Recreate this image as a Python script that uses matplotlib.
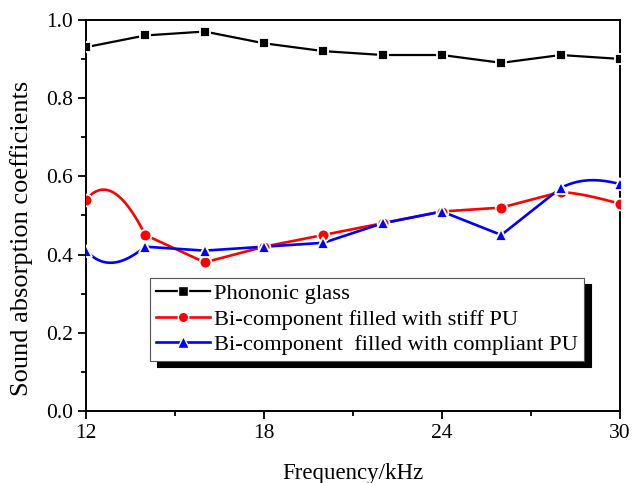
import numpy as np
import matplotlib.pyplot as plt
from matplotlib.lines import Line2D

# data
freq = [12, 14, 16, 18, 20, 22, 24, 26, 28, 30]
glass = [0.93, 0.96, 0.97, 0.94, 0.92, 0.91, 0.91, 0.89, 0.91, 0.90]
stiff = [0.54, 0.45, 0.38, 0.42, 0.45, 0.48, 0.51, 0.52, 0.56, 0.53]
compliant = [0.41, 0.42, 0.41, 0.42, 0.43, 0.48, 0.51, 0.45, 0.57, 0.58]
labels = ["Phononic glass",
          "Bi-component filled with stiff PU",
          "Bi-component  filled with compliant PU"]

# line shape: slopes used at the ends of the first and last segment
# (first-start, first-end, last-start, last-end), the rest is straight
stiff_ends = (0.09, -0.15, -0.005, -0.02)
compliant_ends = (-0.08, 0.06, 0.04, -0.02)


def connect(x, y, ends, n=60):
    # a. build the connecting line: curved end segments, straight inside
    x = np.asarray(x, float)
    y = np.asarray(y, float)
    xs_all, ys_all = [], []
    k = len(x)
    for i in range(k - 1):
        h = x[i + 1] - x[i]
        t = np.linspace(0, 1, n)
        if i == 0 or i == k - 2:
            m0, m1 = (ends[0], ends[1]) if i == 0 else (ends[2], ends[3])
            h00 = 2 * t**3 - 3 * t**2 + 1
            h10 = t**3 - 2 * t**2 + t
            h01 = -2 * t**3 + 3 * t**2
            h11 = t**3 - t**2
            seg = h00 * y[i] + h10 * h * m0 + h01 * y[i + 1] + h11 * h * m1
        else:
            seg = y[i] + t * (y[i + 1] - y[i])
        xs_all.append(x[i] + t * h)
        ys_all.append(seg)
    return np.concatenate(xs_all), np.concatenate(ys_all)


plt.rcParams['font.family'] = ['Liberation Serif', 'DejaVu Serif']

fig = plt.figure(figsize=(6.32, 4.83), dpi=100)
ax = fig.add_axes([0.136, 0.149, 0.845, 0.81])

# a. lines
ax.plot(freq, glass, color='black', lw=1.6, zorder=2)
xs, ys = connect(freq, stiff, stiff_ends)
ax.plot(xs, ys, color='red', lw=1.9, zorder=2)
xs, ys = connect(freq, compliant, compliant_ends)
ax.plot(xs, ys, color='blue', lw=1.9, zorder=2)

# b. markers with white rim to mimic the gap around each symbol
ax.plot(freq, glass, ls='none', marker='s', ms=7.5, color='black', mec='white', mew=1.3, zorder=3)
ax.plot(freq, stiff, ls='none', marker='o', ms=8.5, color='red', mec='white', mew=1.3, zorder=3)
ax.plot(freq, compliant, ls='none', marker='^', ms=9, color='blue', mec='white', mew=1.3, zorder=4)

# c. axes
ax.set_xlim(12, 30)
ax.set_ylim(0, 1.0)
ax.set_xticks([12, 18, 24, 30])
ax.set_xticks([15, 21, 27], minor=True)
ax.set_yticks(np.arange(0, 1.01, 0.2))
ax.set_yticks(np.arange(0.1, 1.0, 0.2), minor=True)
ax.yaxis.set_major_formatter(plt.FormatStrFormatter('%.1f'))
ax.tick_params(which='major', direction='out', length=6, width=1.3, labelsize=15.5)
ax.tick_params(which='minor', direction='out', length=3.5, width=1.3)
for s in ax.spines.values():
    s.set_linewidth(1.4)

ax.set_xlabel("Frequency/kHz", fontsize=16.5, labelpad=14)
ax.set_ylabel("Sound absorption coefficients", fontsize=19)
ax.yaxis.set_label_coords(-0.1, 0.442)

# d. legend
handles = [
    Line2D([], [], color='black', lw=1.6, marker='s', ms=6.5, mec='white', mew=1.0),
    Line2D([], [], color='red', lw=1.9, marker='o', ms=7.5, mec='white', mew=1.0),
    Line2D([], [], color='blue', lw=1.9, marker='^', ms=8, mec='white', mew=1.0),
]
leg = ax.legend(handles, labels, loc='lower left', bbox_to_anchor=(0.12, 0.128),
                fancybox=False, framealpha=1, edgecolor='#555555', fontsize=16.2,
                handlelength=2.4, handletextpad=0.2, borderpad=0.25, labelspacing=0.22,
                borderaxespad=0, shadow={'color': 'black', 'alpha': 1, 'ox': 5, 'oy': -4.5})
leg.get_frame().set_linewidth(0.8)

fig.savefig('out.png', dpi=100)
